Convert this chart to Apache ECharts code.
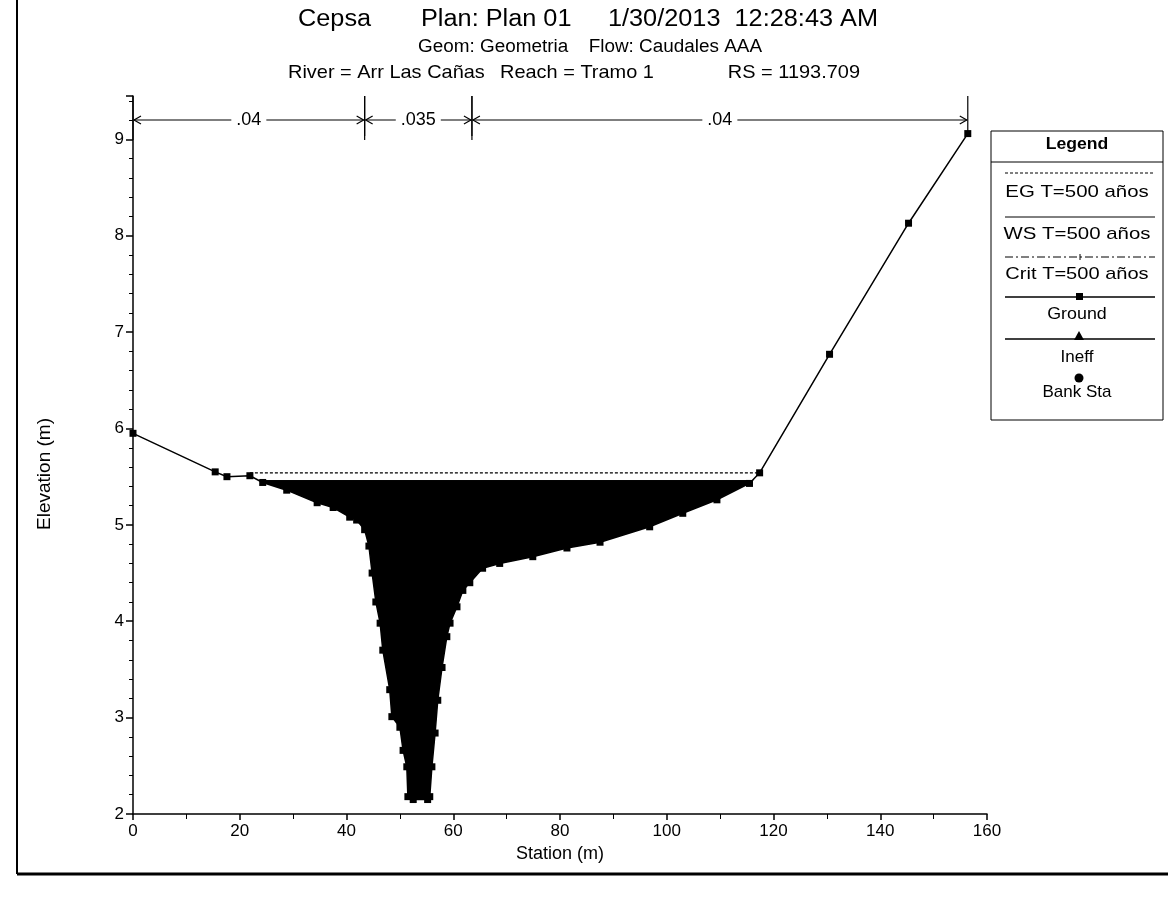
<!DOCTYPE html>
<html>
<head>
<meta charset="utf-8">
<script src="https://cdn.jsdelivr.net/npm/echarts@6/dist/echarts.min.js"></script>
<style>
html,body{margin:0;padding:0;background:#fff;}
#chart{width:1168px;height:897px;}
</style>
</head>
<body>
<div id="chart"></div>
<script>
// ---- Data ----
const groundStation = [0, 15.4, 17.6, 21.9, 24.3, 28.8, 34.5, 37.5, 40.6, 41.9, 43.4, 44.2, 44.8, 45.5, 46.3, 46.8, 48.1, 48.5, 50.0, 50.6, 51.3, 51.5, 52.5, 55.2, 55.6, 56.0, 56.6, 57.1, 57.9, 58.8, 59.4, 60.7, 61.8, 63.1, 65.5, 68.7, 74.9, 81.3, 87.5, 96.8, 103.0, 109.4, 115.5, 117.4, 130.5, 145.3, 156.4];
const groundElev = [5.95, 5.55, 5.50, 5.51, 5.44, 5.36, 5.23, 5.18, 5.08, 5.05, 4.95, 4.78, 4.50, 4.20, 3.98, 3.70, 3.29, 3.01, 2.90, 2.66, 2.49, 2.18, 2.15, 2.15, 2.18, 2.49, 2.84, 3.18, 3.52, 3.84, 3.98, 4.15, 4.32, 4.40, 4.55, 4.60, 4.67, 4.76, 4.82, 4.98, 5.12, 5.26, 5.43, 5.54, 6.77, 8.13, 9.06];
const wsElev = 5.46;          // WS T=500 años
const wsStations = [23.6, 116.2];
const egElev = 5.54;          // EG T=500 años
const egStations = [21.9, 117.4];
const nBreaks = [0, 43.4, 63.5, 156.4];
const nValues = ['.04', '.035', '.04'];
const xTicks = [0, 20, 40, 60, 80, 100, 120, 140, 160];
const yTicks = [2, 3, 4, 5, 6, 7, 8, 9];
const legendItems = ['EG T=500 años', 'WS T=500 años', 'Crit T=500 años', 'Ground', 'Ineff', 'Bank Sta'];

const FONT = '"Liberation Sans", Arial, sans-serif';
const chart = echarts.init(document.getElementById('chart'), null, {renderer: 'canvas'});

const groundData = groundStation.map((s, i) => [s, groundElev[i]]);
const wsData = wsStations.map(s => [s, wsElev]);
const egData = egStations.map(s => [s, egElev]);
const nData = nValues.map((v, i) => [nBreaks[i], nBreaks[i + 1], v]);

function txt(t, x, y, size, opts) {
  opts = opts || {};
  return {
    type: 'text', x: x, y: y, scaleX: opts.sx || 1, rotation: opts.rot || 0, z: opts.z || 101,
    style: {text: t, x: 0, y: 0, align: opts.align || 'center', verticalAlign: 'middle',
      font: (opts.bold ? 'bold ' : '') + size + 'px ' + FONT, fill: '#000'}
  };
}

// legend graphics
const LX0 = 991, LX1 = 1163, LCX = (LX0 + LX1) / 2;
const legendG = [
  {type: 'rect', shape: {x: LX0, y: 131, width: LX1 - LX0, height: 289}, style: {fill: '#fff', stroke: '#000', lineWidth: 1}, z: 100},
  txt('Legend', LCX, 145, 16, {bold: true, sx: 1.1}),
  {type: 'line', shape: {x1: LX0, y1: 162, x2: LX1, y2: 162}, style: {stroke: '#000', lineWidth: 1}, z: 101},
  {type: 'line', shape: {x1: 1005, y1: 173, x2: 1155, y2: 173}, style: {stroke: '#000', lineWidth: 1, lineDash: [3, 2]}, z: 101},
  txt(legendItems[0], LCX, 192, 17, {sx: 1.2}),
  {type: 'line', shape: {x1: 1005, y1: 217, x2: 1155, y2: 217}, style: {stroke: '#000', lineWidth: 1}, z: 101},
  txt(legendItems[1], LCX, 234, 17, {sx: 1.2}),
  {type: 'line', shape: {x1: 1005, y1: 257, x2: 1155, y2: 257}, style: {stroke: '#000', lineWidth: 1, lineDash: [8, 3, 2, 3]}, z: 101},
  {type: 'line', shape: {x1: 1080, y1: 254, x2: 1080, y2: 260}, style: {stroke: '#000', lineWidth: 1}, z: 101},
  txt(legendItems[2], LCX, 274, 17, {sx: 1.18}),
  {type: 'line', shape: {x1: 1005, y1: 297, x2: 1155, y2: 297}, style: {stroke: '#000', lineWidth: 1.5}, z: 101},
  {type: 'rect', shape: {x: 1076, y: 293, width: 7, height: 7}, style: {fill: '#000'}, z: 102},
  txt(legendItems[3], LCX, 314, 17, {sx: 1.05}),
  {type: 'line', shape: {x1: 1005, y1: 339, x2: 1155, y2: 339}, style: {stroke: '#000', lineWidth: 1.5}, z: 101},
  {type: 'polygon', shape: {points: [[1079, 331], [1074, 340], [1084, 340]]}, style: {fill: '#000'}, z: 102},
  txt(legendItems[4], LCX, 357, 17),
  {type: 'circle', shape: {cx: 1079, cy: 378, r: 4.5}, style: {fill: '#000'}, z: 101},
  txt(legendItems[5], LCX, 392, 17)
];

const titleG = [
  txt('Cepsa', 298, 20, 23, {align: 'left', sx: 1.1}),
  txt('Plan: Plan 01', 421, 20, 23, {align: 'left', sx: 1.1}),
  txt('1/30/2013  12:28:43 AM', 878, 20, 23, {align: 'right', sx: 1.1}),
  txt('Geom: Geometria', 418, 47, 18, {align: 'left', sx: 1.05}),
  txt('Flow: Caudales AAA', 762, 47, 18, {align: 'right', sx: 1.05}),
  txt('River = Arr Las Cañas', 288, 73, 19, {align: 'left', sx: 1.05}),
  txt('Reach = Tramo 1', 500, 73, 19, {align: 'left', sx: 1.05}),
  txt('RS = 1193.709', 860, 73, 19, {align: 'right', sx: 1.05}),
  txt('Elevation (m)', 45, 474, 19, {rot: Math.PI / 2}),
  // page frame
  {type: 'line', shape: {x1: 17, y1: 0, x2: 17, y2: 874}, style: {stroke: '#000', lineWidth: 2}},
  {type: 'line', shape: {x1: 17, y1: 874, x2: 1168, y2: 874}, style: {stroke: '#000', lineWidth: 3}}
];

function nRender(params, api) {
  const cs = params.coordSys;
  const x1 = api.coord([api.value(0), 9])[0];
  const x2 = api.coord([api.value(1), 9])[0];
  const yTop = cs.y;
  const yA = cs.y + 24;
  const label = nValues[params.dataIndex];
  const children = [];
  const mid = (x1 + x2) / 2;
  children.push({type: 'line', shape: {x1: x1 + 1, y1: yA, x2: x2 - 1, y2: yA}, style: {stroke: '#000', lineWidth: 1.2}});
  children.push({type: 'polyline', shape: {points: [[x1 + 8, yA - 4], [x1 + 1, yA], [x1 + 8, yA + 4]]}, style: {stroke: '#000', fill: null, lineWidth: 1.2}});
  children.push({type: 'polyline', shape: {points: [[x2 - 8, yA - 4], [x2 - 1, yA], [x2 - 8, yA + 4]]}, style: {stroke: '#000', fill: null, lineWidth: 1.2}});
  children.push({type: 'text', style: {text: label, x: mid, y: yA, align: 'center', verticalAlign: 'middle', font: '18px ' + FONT, fill: '#000', backgroundColor: '#fff', padding: [0, 5]}});
  children.push({type: 'line', shape: {x1: x1, y1: yTop, x2: x1, y2: yTop + 44}, style: {stroke: '#000', lineWidth: 1.2}});
  children.push({type: 'line', shape: {x1: x2, y1: yTop, x2: x2, y2: yTop + 40}, style: {stroke: '#000', lineWidth: 1.2}});
  return {type: 'group', children: children};
}

const option = {
  backgroundColor: '#fff',
  animation: false,
  textStyle: {fontFamily: FONT},
  grid: {left: 133, right: 181, top: 96, bottom: 83, containLabel: false},
  xAxis: {
    type: 'value', min: 0, max: 160, interval: 20, z: 10,
    name: 'Station (m)', nameLocation: 'middle', nameGap: 30,
    nameTextStyle: {fontSize: 18, color: '#000', fontFamily: FONT},
    axisLine: {show: true, onZero: false, lineStyle: {color: '#000', width: 1.5}},
    axisTick: {show: true, inside: false, length: 6, lineStyle: {color: '#000', width: 1.5}},
    minorTick: {show: true, splitNumber: 2, length: 5, lineStyle: {color: '#000', width: 1}},
    axisLabel: {fontSize: 17, color: '#000', margin: 9, fontFamily: FONT, formatter: v => xTicks.includes(v) ? String(v) : ''},
    splitLine: {show: false}
  },
  yAxis: {
    type: 'value', min: 2, max: 9.45, interval: 1, z: 10,
    axisLine: {show: true, onZero: false, lineStyle: {color: '#000', width: 1.5}},
    axisTick: {show: true, inside: false, length: 7, lineStyle: {color: '#000', width: 1.5}},
    minorTick: {show: true, splitNumber: 5, length: 4, lineStyle: {color: '#000', width: 1}},
    axisLabel: {fontSize: 17, color: '#000', margin: 9, fontFamily: FONT, formatter: v => yTicks.includes(v) ? String(v) : ''},
    splitLine: {show: false}
  },
  graphic: titleG.concat(legendG),
  series: [
    {
      name: 'water', type: 'line', data: [[groundStation[2], wsElev], [groundStation[groundStation.length - 4] + 2, wsElev]],
      symbol: 'none', lineStyle: {width: 0}, areaStyle: {color: '#000', opacity: 1, origin: 'start'}, z: 2, silent: true
    },
    {
      name: 'Ground', type: 'line', data: groundData, symbol: 'rect', symbolSize: 7,
      itemStyle: {color: '#000'}, lineStyle: {color: '#000', width: 1.5},
      areaStyle: {color: '#fff', opacity: 1, origin: 'start'}, z: 3
    },
    {
      name: 'WS T=500 años', type: 'line', data: wsData, symbol: 'none',
      lineStyle: {color: '#000', width: 1}, z: 4
    },
    {
      name: 'EG T=500 años', type: 'line', data: egData, symbol: 'none',
      lineStyle: {color: '#000', width: 1.2, type: [3, 2]}, z: 4
    },
    {
      name: 'n', type: 'custom', data: nData, renderItem: nRender, z: 5, clip: false, silent: true
    }
  ]
};
chart.setOption(option);
</script>
</body>
</html>
